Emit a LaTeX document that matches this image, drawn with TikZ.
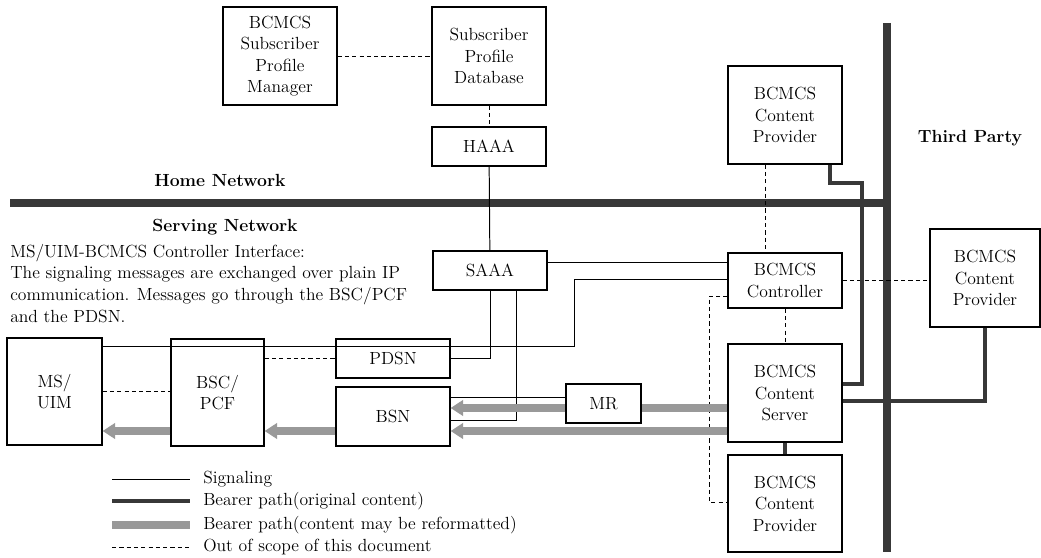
\documentclass[tikz,border=0pt]{standalone}
\usepackage{tikz}
\usetikzlibrary{arrows.meta, positioning, calc}

\definecolor{bardark}{gray}{0.22}
\definecolor{reformgray}{gray}{0.6}

\begin{document}
\begin{tikzpicture}[x=0.025cm, y=-0.025cm,
    font=\fontsize{12.5}{15.3}\selectfont,
    box/.style={draw, line width=0.8pt, align=center, inner sep=1pt,
      minimum width=2.85cm},
    sig/.style={line width=0.7pt},
    oos/.style={line width=0.7pt, dash pattern=on 3pt off 2.2pt},
    bearer/.style={line width=2.8pt, draw=bardark},
    reform/.style={line width=5pt, draw=reformgray},
    reformarrow/.style={reform, -{Triangle[width=11pt, length=9pt]}},
    netbar/.style={line width=5.7pt, draw=bardark},
    legtext/.style={anchor=west, inner sep=0pt}]
    \useasboundingbox (0,0) rectangle (1041,558);

    % home network
    \node[box, minimum height=2.45cm] (spm) at (280,56) {BCMCS\\Subscriber\\Profile\\Manager};
    \node[box, minimum height=2.45cm] (spd) at (489,56) {Subscriber\\Profile\\Database};
    \node[box, minimum height=0.975cm] (haaa) at (489,146.5) {HAAA};

    % network borders
    \coordinate (bar-top) at (887,23);
    \coordinate (bar-bottom) at (887,552);
    \coordinate (bar-left) at (10,203);
    \draw[netbar] (bar-left) -- (bar-left -| bar-top);
    \draw[netbar] (bar-top) -- (bar-bottom);
    \node (home) at (220,180) {\bfseries Home Network};
    \node (serving) at (225,227) {\bfseries Serving Network};
    \node (third) at (970,138) {\bfseries Third Party};

    % serving network
    \node[box, minimum height=0.975cm] (saaa) at (490,270.5) {SAAA};
    \node[box, minimum width=2.375cm, minimum height=2.675cm] (ms) at (54.5,391.5) {MS/\\UIM};
    \node[box, minimum width=2.325cm, minimum height=2.675cm] (bsc) at (217.5,392.5) {BSC/\\PCF};
    \node[box, minimum height=0.975cm] (pdsn) at (393,358.5) {PDSN};
    \node[box, minimum height=1.475cm] (bsn) at (393,416.5) {BSN};
    \node[box, minimum width=1.875cm, minimum height=0.975cm] (mr) at (603.5,403.5) {MR};
    \node[box, minimum height=1.375cm] (ctrl) at (785,280.5) {BCMCS\\Controller};
    \node[box, minimum height=2.45cm] (server) at (785,393) {BCMCS\\Content\\Server};

    % content providers
    \node[box, minimum height=2.45cm] (cp-top) at (785,115) {BCMCS\\Content\\Provider};
    \node[box, minimum width=2.75cm, minimum height=2.45cm] (cp-right) at (985,278) {BCMCS\\Content\\Provider};
    \node[box, minimum height=2.425cm] (cp-bottom) at (785,503.5) {BCMCS\\Content\\Provider};

    \node[anchor=north west, align=left, inner sep=0pt] (iface) at (10,244)
      {MS/UIM-BCMCS Controller Interface:\\
       The signaling messages are exchanged over plain IP\\
       communication. Messages go through the BSC/PCF\\
       and the PDSN.};

    % out of scope
    \draw[oos] (spm) -- (spd);
    \draw[oos] (spd) -- (haaa);
    \draw[oos] (ms) -- (ms -| bsc.west);
    \draw[oos] (bsc.east |- pdsn) -- (pdsn);
    \draw[oos] (cp-top.south -| 765,0) -- (ctrl.north -| 765,0);
    \draw[oos] (ctrl) -- (ctrl -| cp-right.west);
    \draw[oos] (ctrl) -- (server);
    \draw[oos] (ctrl.west |- 0,296) -| (709,502) -- (cp-bottom.west |- 0,502);

    % signaling
    \draw[sig] (haaa) -- (saaa);
    \draw[sig] (saaa.east |- 0,262) -- (ctrl.west |- 0,262);
    \draw[sig] (ms.east |- 0,346) -| (574,279) -- (ctrl.west |- 0,279);
    \draw[sig] (pdsn) -| (saaa);
    \draw[sig] (516,0 |- saaa.south) |- (bsn.east |- 0,420);
    \draw[sig] (mr.west |- 0,397) -- (bsn.east |- 0,397);

    % bearer paths
    \draw[bearer] (cp-top.south -| 830,0) |- (862,183) |- (server.east |- 0,384);
    \draw[bearer] (cp-right) |- (server.east |- 0,401);
    \draw[bearer] (server) -- (cp-bottom);

    \draw[reform] (server.west |- 0,408) -- (mr.east |- 0,408);
    \draw[reformarrow] (mr.west |- 0,408) -- (bsn.east |- 0,408);
    \draw[reformarrow] (server.west |- 0,431) -- (bsn.east |- 0,431);
    \draw[reformarrow] (bsn.west |- 0,431) -- (bsc.east |- 0,431);
    \draw[reformarrow] (bsc.west |- 0,431) -- (ms.east |- 0,431);

    % legend
    \coordinate (leg1) at (112,479);
    \coordinate (leg2) at (112,501);
    \coordinate (leg3) at (112,525);
    \coordinate (leg4) at (112,547);
    \draw[sig] (leg1) -- ++(78,0);
    \draw[bearer] (leg2) -- ++(78,0);
    \draw[reform] (leg3) -- ++(78,0);
    \draw[oos] (leg4) -- ++(78,0);
    \node[legtext] (leg1-text) at (203,479) {Signaling};
    \node[legtext] (leg2-text) at (203,501) {Bearer path(original content)};
    \node[legtext] (leg3-text) at (203,525) {Bearer path(content may be reformatted)};
    \node[legtext] (leg4-text) at (203,547) {Out of scope of this document};
\end{tikzpicture}
\end{document}
